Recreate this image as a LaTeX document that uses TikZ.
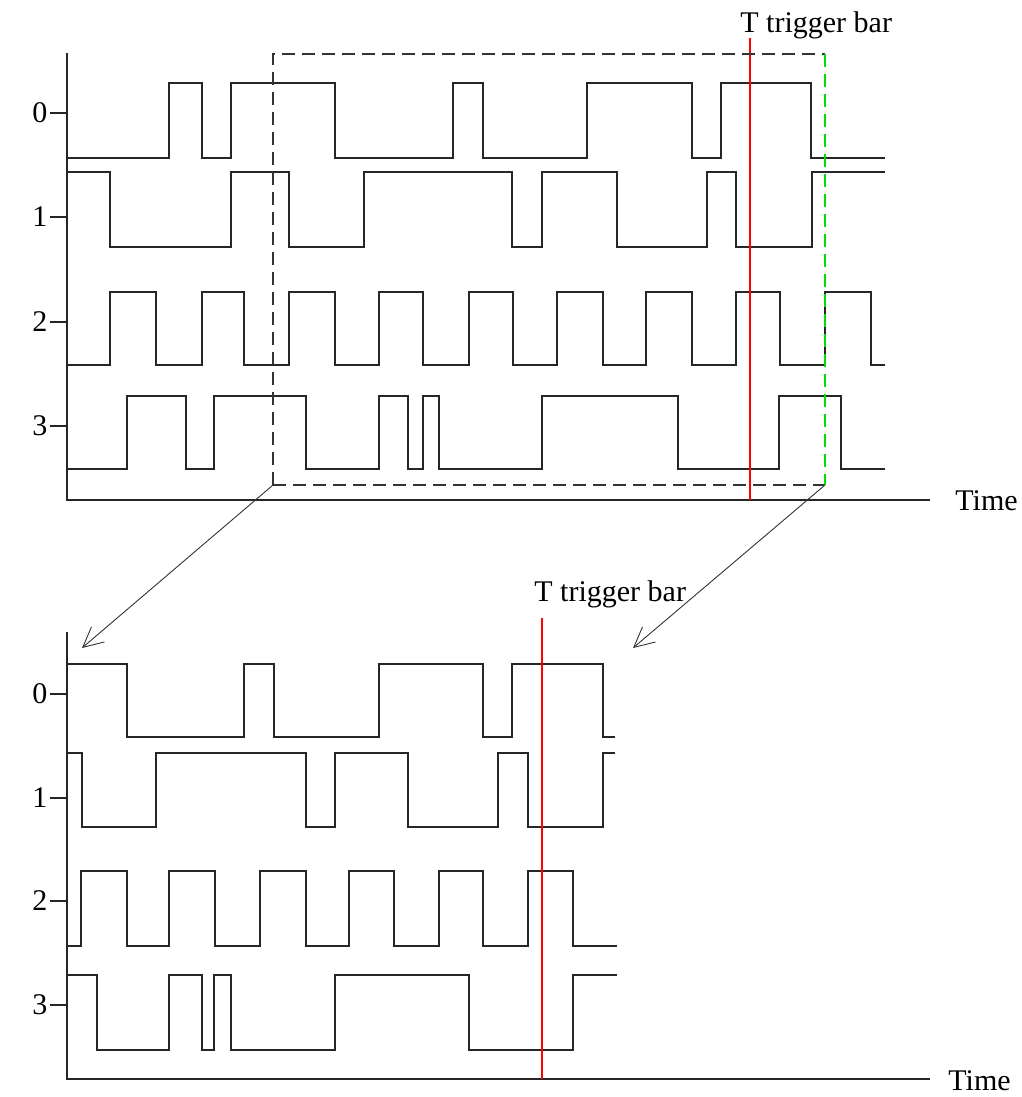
\documentclass[tikz,border=0pt]{standalone}
\usepackage{fontspec}
\setmainfont{Liberation Serif}
\usepackage{tikz}
\usetikzlibrary{arrows.meta}
\definecolor{trigred}{HTML}{FF0000}
\definecolor{wingreen}{HTML}{00DD00}

\begin{document}
\begin{tikzpicture}[
    x=0.5pt, y=-0.5pt,
    font=\fontsize{15}{18}\selectfont,
    axis/.style={line width=0.8pt, black!85},
    wave/.style={line width=0.8pt, black!85},
    trigbar/.style={draw=trigred, line width=0.8pt},
    window/.style={dash pattern=on 6.5pt off 3.5pt, line width=0.8pt, black!80},
    zoomarr/.style={-{Straight Barb[length=10pt,width=10pt]}, line width=0.45pt, black!80},
    lbl/.style={inner sep=0pt}
  ]
    \useasboundingbox (0,0) rectangle (1022,1097);

    % upper chart
    \node[lbl] (up0) at (40,113) {0};
    \node[lbl] (up1) at (40,217) {1};
    \node[lbl] (up2) at (40,322) {2};
    \node[lbl] (up3) at (40,426) {3};
    \node[lbl, anchor=west] (uptime) at (955,501) {Time};
    \node[lbl, anchor=base west] (uptrig) at (740,33) {T trigger bar};

    \draw[axis] (67,53) -- (67,500) -- (930,500);
    \foreach \yy in {113,217,322,426}
      \draw[axis] (50,\yy) -- (67,\yy);

    \draw[wave] (67,158) -| (169,83) -| (202,158) -| (231,83) -| (335,158) -| (453,83) -| (483,158)
      -| (587,83) -| (692,158) -| (721,83) -| (811,158) -- (885,158);
    \draw[wave] (67,172) -| (110,247) -| (231,172) -| (289,247) -| (364,172) -| (512,247) -| (542,172)
      -| (617,247) -| (707,172) -| (736,247) -| (812,172) -- (885,172);
    \draw[wave] (67,365) -| (110,292) -| (156,365) -| (202,292) -| (244,365) -| (289,292) -| (335,365)
      -| (379,292) -| (423,365) -| (469,292) -| (513,365) -| (557,292) -| (603,365) -| (646,292)
      -| (692,365) -| (736,292) -| (780,365) -| (825,292) -| (871,365) -- (885,365);
    \draw[wave] (67,469) -| (127,396) -| (186,469) -| (214,396) -| (306,469) -| (379,396) -| (408,469)
      -| (423,396) -| (439,469) -| (542,396) -| (678,469) -| (779,396) -| (841,469) -- (885,469);

    \draw[trigbar] (750,38) -- (750,500);

    \coordinate (winTL) at (273,54);
    \coordinate (winTR) at (825,54);
    \coordinate (winBL) at (273,485);
    \coordinate (winBR) at (825,485);
    \draw[window] (winBL) -- (winTL) -- (winTR);
    \draw[window] (winBL) -- (winBR);
    \draw[window, draw=wingreen] (winTR) -- (winBR);

    % lower chart
    \node[lbl] (lo0) at (40,694) {0};
    \node[lbl] (lo1) at (40,798) {1};
    \node[lbl] (lo2) at (40,901) {2};
    \node[lbl] (lo3) at (40,1005) {3};
    \node[lbl, anchor=west] (lotime) at (948,1081) {Time};
    \node[lbl, anchor=base west] (lotrig) at (534,601) {T trigger bar};

    \draw[axis] (67,632) -- (67,1079) -- (930,1079);
    \foreach \yy in {694,798,901,1005}
      \draw[axis] (50,\yy) -- (67,\yy);

    \draw[wave] (67,664) -| (127,737) -| (244,664) -| (274,737) -| (379,664) -| (483,737) -| (512,664)
      -| (603,737) -- (615,737);
    \draw[wave] (67,753) -| (82,827) -| (156,753) -| (306,827) -| (335,753) -| (408,827) -| (498,753)
      -| (528,827) -| (603,753) -- (615,753);
    \draw[wave] (67,946) -| (81,871) -| (127,946) -| (169,871) -| (215,946) -| (260,871) -| (306,946)
      -| (349,871) -| (394,946) -| (439,871) -| (483,946) -| (528,871) -| (573,946) -- (617,946);
    \draw[wave] (67,975) -| (97,1050) -| (169,975) -| (202,1050) -| (214,975) -| (231,1050) -| (335,975)
      -| (469,1050) -| (573,975) -- (617,975);

    \draw[trigbar] (542,618) -- (542,1079);

    \coordinate (zoomL) at (82,648);
    \coordinate (zoomR) at (633,648);
    \draw[zoomarr] (winBL) -- (zoomL);
    \draw[zoomarr] (winBR) -- (zoomR);
  \end{tikzpicture}
\end{document}
